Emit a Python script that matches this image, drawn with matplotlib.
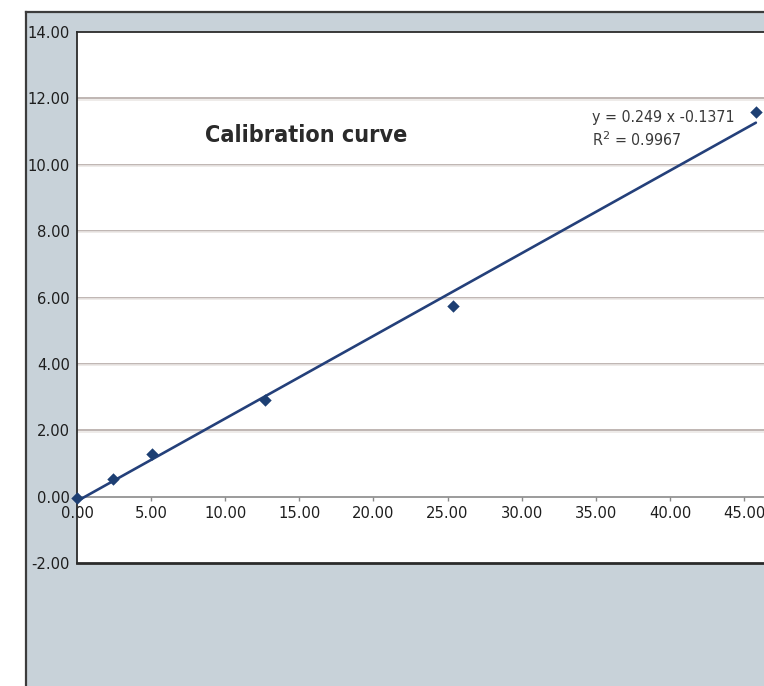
import os
import matplotlib
matplotlib.use("Agg")
import matplotlib.pyplot as plt
from matplotlib import font_manager
from matplotlib.font_manager import FontProperties
from matplotlib.patches import Rectangle
from matplotlib.lines import Line2D
from matplotlib.textpath import TextPath

# ---- data ----
conc = [0.0, 2.45, 5.05, 12.7, 25.4, 45.8]
signal = [-0.05, 0.53, 1.27, 2.92, 5.75, 11.58]
slope = 0.249
intercept = -0.1371
r2 = 0.9967
title = "Calibration curve"
x_ticks = [0, 5, 10, 15, 20, 25, 30, 35, 40, 45]
y_ticks = [-2, 0, 2, 4, 6, 8, 10, 12, 14]

# ---- pick a condensed font if installed ----
files = {os.path.basename(f.fname): f.fname for f in font_manager.fontManager.ttflist}
def first(*cands):
    for c in cands:
        if c in files:
            return files[c]
    return None

reg_file = first("LiberationSansNarrow-Regular.ttf", "DejaVuSansCondensed.ttf",
                 "RobotoCondensed-Regular.ttf")
bold_file = first("LiberationSansNarrow-Bold.ttf", "DejaVuSansCondensed-Bold.ttf",
                  "RobotoCondensed-Bold.ttf")
if reg_file:
    reg = FontProperties(fname=reg_file)
else:
    reg = FontProperties(family="Liberation Sans")
if bold_file:
    bold = FontProperties(fname=bold_file)
else:
    bold = FontProperties(family="Liberation Sans", weight="bold")

DPI = 100
def fit_size(text, prop, target_px, max_pt):
    p = prop.copy()
    p.set_size(10)
    w = TextPath((0, 0), text, prop=p).get_extents().width  # in points at 10pt
    w_px = w * DPI / 72
    size = 10 * target_px / w_px
    return min(size, max_pt)

tick_size = fit_size("14.00", reg, 39.5, 14)
title_size = fit_size(title, bold, 200, 20)
eq_size = fit_size(f"y = {slope} x {intercept}", reg, 141, 12.5)

W, H = 764, 686
fig = plt.figure(figsize=(W / DPI, H / DPI), dpi=DPI)
fig.patch.set_facecolor('white')

def fx(px):
    return px / W

def fy(py):
    return 1 - py / H

# outer grey panel
panel = Rectangle((fx(26), 0), 1.2, fy(12), transform=fig.transFigure,
                  facecolor='#c8d2d9', edgecolor='none', zorder=-5)
fig.add_artist(panel)
fig.add_artist(Line2D([fx(26), fx(26)], [0, fy(12)], transform=fig.transFigure,
                      color='#3c3c3c', lw=1.6, zorder=-4))
fig.add_artist(Line2D([fx(26), 1.0], [fy(12), fy(12)], transform=fig.transFigure,
                      color='#3c3c3c', lw=1.6, zorder=-4))

left, top, bottom = 77, 32, 563
xmax = 50
right = left + xmax * (744 - 77) / 45
ax = fig.add_axes([fx(left), fy(bottom), fx(right - left), fy(top) - fy(bottom)])
ax.set_zorder(2)
ax.set_facecolor('white')
ax.set_xlim(0, xmax)
ax.set_ylim(-2, 14)

# frame
for s in ['left', 'top']:
    ax.spines[s].set_color('#2b2b2b')
    ax.spines[s].set_linewidth(1.3)
ax.spines['right'].set_visible(False)
ax.spines['bottom'].set_position(('data', 0))
ax.spines['bottom'].set_color('#8a8a8a')
ax.spines['bottom'].set_linewidth(1.2)
ax.spines['bottom'].set_zorder(2)
ax.axhline(-2, color='#2b2b2b', lw=2.0, clip_on=False, zorder=5)

# gridlines
for yv in y_ticks:
    if yv in (-2, 0, 14):
        continue
    ax.axhline(yv, color='#bfb6b2', lw=1.4, zorder=1)
    ax.axhline(yv - 0.04, color='#ebe7e5', lw=1.2, zorder=1)

ax.set_xticks(x_ticks)
ax.set_xticklabels([f"{v:.2f}" for v in x_ticks])
ax.set_yticks(y_ticks)
ax.set_yticklabels([f"{v:.2f}" for v in y_ticks])
ax.tick_params(axis='x', direction='out', length=3, width=1, color='#8a8a8a',
               pad=4, labelcolor='#1e1e1e')
ax.tick_params(axis='y', length=0, pad=5, labelcolor='#1e1e1e')
for lab in ax.get_xticklabels() + ax.get_yticklabels():
    lab.set_fontproperties(reg)
    lab.set_fontsize(tick_size)

# trendline
xs = [min(conc), max(conc)]
ys = [slope * v + intercept for v in xs]
ax.plot(xs, ys, color='#24407a', lw=1.9, zorder=4, solid_capstyle='round')
ax.scatter(conc, signal, marker='D', s=40, color='#1d3f73', zorder=6,
           clip_on=False, linewidths=0)

tp = bold.copy(); tp.set_size(title_size)
ax.text(15.45, 10.87, title, fontproperties=tp, color='#2a2a2a',
        ha='center', va='center')
ep = reg.copy(); ep.set_size(eq_size)
ax.text(34.74, 11.43, f"y = {slope} x {intercept}", fontproperties=ep,
        color='#3a3a3a', ha='left', va='center')
ax.text(34.74, 10.77, f"R$^2$ = {r2}", fontproperties=ep,
        color='#3a3a3a', ha='left', va='center')

fig.savefig("out.png", dpi=DPI, facecolor=fig.get_facecolor())
